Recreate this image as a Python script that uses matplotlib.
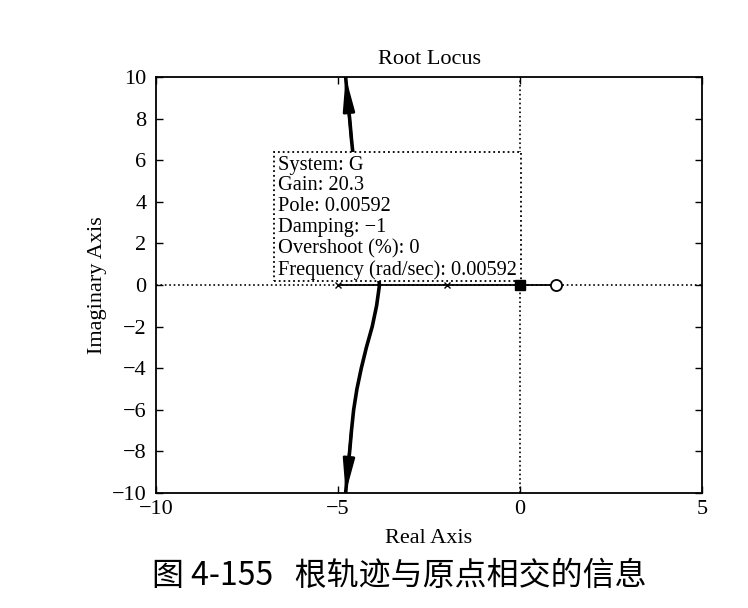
import matplotlib.pyplot as plt
from matplotlib.patches import Rectangle

# root locus data
poles_re = [-5, -2, 0]
zeros_re = [1]
axis_locus_re = [-5, 1]
branch_re = [-3.86, -3.94, -4.06, -4.22, -4.36, -4.48, -4.57, -4.63, -4.68, -4.74, -4.79]
branch_im = [0, 1, 2, 3, 4, 5, 6, 7, 8, 9, 10]
tip_re, tip_im = 0.00592, 0.0
tip_lines = ["System: G", "Gain: 20.3", "Pole: 0.00592", "Damping: \u22121",
             "Overshoot (%): 0", "Frequency (rad/sec): 0.00592"]
xticks = [-10, -5, 0, 5]
yticks = [-10, -8, -6, -4, -2, 0, 2, 4, 6, 8, 10]

plt.rcParams['font.family'] = ['Liberation Serif', 'DejaVu Serif']

fig = plt.figure(figsize=(7.48, 6.08), dpi=100)
ax = fig.add_axes([156/748, 115/608, 546/748, 416/608])

# dotted axes through origin
ax.axhline(0, color='k', ls=':', lw=1.2, zorder=1)
ax.axvline(0, color='k', ls=':', lw=1.2, zorder=1)

# real-axis part of the locus
ax.plot(axis_locus_re, [0, 0], color='k', lw=1.3, zorder=2)

# complex branches (upper and mirrored lower)
lower_im = [-v for v in branch_im]
ax.plot(branch_re, branch_im, color='k', lw=2.6, zorder=2, solid_capstyle='butt')
ax.plot(branch_re, lower_im, color='k', lw=2.6, zorder=2, solid_capstyle='butt')
for im in (branch_im, lower_im):
    ax.annotate('', xy=(branch_re[-1], im[-1]), xytext=(branch_re[-4], im[-4]),
                arrowprops=dict(arrowstyle='-|>,head_length=2.0,head_width=0.35',
                                mutation_scale=10, color='k', lw=2.0,
                                shrinkA=0, shrinkB=0),
                zorder=3)

# poles and zeros
ax.plot(poles_re, [0]*len(poles_re), 'x', color='k', ms=5, mew=1.0, zorder=4)
ax.plot(zeros_re, [0]*len(zeros_re), 'o', mfc='white', mec='k', ms=8, mew=1.3, zorder=4)

# data tip box
box = Rectangle((-6.76, 0.19), 6.79, 6.2, facecolor='white', edgecolor='k',
                ls=':', lw=1.3, zorder=5)
ax.add_patch(box)
ax.text(-6.64, 6.22, "\n".join(tip_lines), ha='left', va='top', fontsize=14.7,
        linespacing=1.13, zorder=6)
ax.plot([tip_re], [tip_im], 's', color='k', ms=7, zorder=7)

ax.set_xlim(-10, 5)
ax.set_ylim(-10, 10)
ax.set_xticks(xticks)
ax.set_yticks(yticks)
ax.tick_params(direction='in', top=True, right=True, labelsize=16, length=5, width=1)
ax.tick_params(axis='y', pad=7)
ax.tick_params(axis='x', pad=5)
for s in ax.spines.values():
    s.set_linewidth(1.3)

ax.set_title("Root Locus", fontsize=16, pad=9)
ax.set_xlabel("Real Axis", fontsize=16, labelpad=7)
ax.set_ylabel("Imaginary Axis", fontsize=16, labelpad=3)

fig.text(399/748, 1 - 576/608, "图 4-155   根轨迹与原点相交的信息", ha='center', va='center',
         fontsize=23, family=['Noto Sans CJK SC', 'DejaVu Sans'])

fig.savefig("out.png", dpi=100)
